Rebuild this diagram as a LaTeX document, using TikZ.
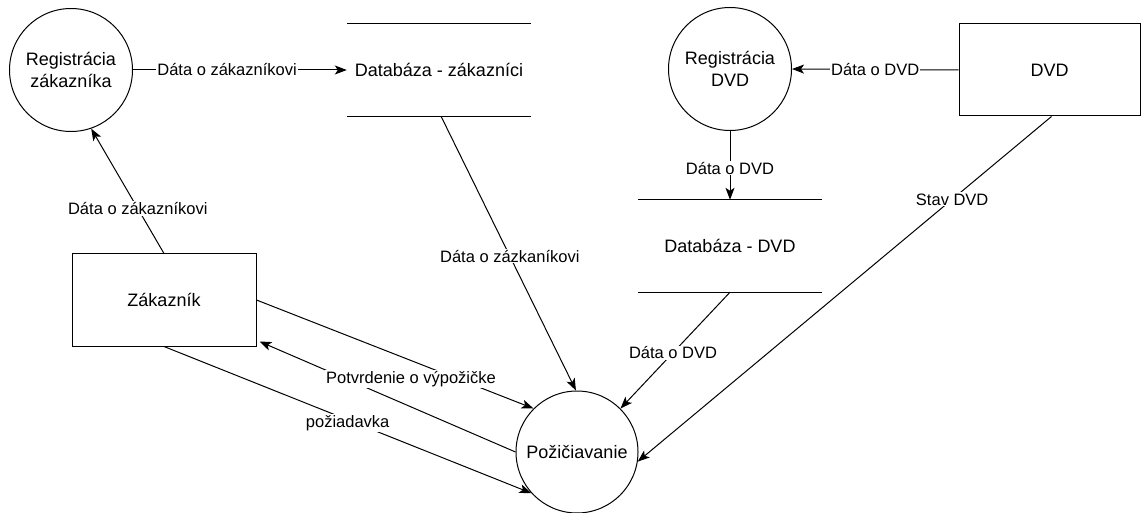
\documentclass[tikz,border=0pt]{standalone}
\usepackage{fontspec}
\setmainfont{Liberation Sans}
\usetikzlibrary{arrows.meta,calc}
\begin{document}
\begin{tikzpicture}[x=1pt,y=-1pt,
  every node/.style={font=\fontsize{18}{22}\selectfont},
  proc/.style={draw, circle, minimum size=123pt, inner sep=0pt, align=center, line width=1pt},
  ent/.style={draw, rectangle, minimum width=184pt, minimum height=92pt, line width=1pt},
  store/.style={rectangle, minimum width=184pt, minimum height=92pt},
  storeline/.style={line width=1pt},
  flow/.style={-{Stealth[length=12pt,width=9pt,inset=3pt]}, line width=1pt},
  lbl/.style={fill=white, inner sep=1pt, font=\fontsize{16.5}{20}\selectfont}
]
\useasboundingbox (0,0) rectangle (1141,513);

% nodes
\node[proc] (regZ) at (71,70) {Registrácia\\zákazníka};
\node[store] (dbZ) at (439,70) {Databáza - zákazníci};
\node[proc] (regD) at (730,69) {Registrácia\\DVD};
\node[store] (dbD) at (730,246) {Databáza - DVD};
\node[ent, minimum width=181pt] (dvd) at (1049.5,70) {DVD};
\node[ent] (zak) at (164,300) {Zákazník};
\node[proc, minimum size=122pt] (pozic) at (577,452) {Požičiavanie};

% data store lines
\draw[storeline] (dbZ.north west) -- (dbZ.north east);
\draw[storeline] (dbZ.south west) -- (dbZ.south east);
\draw[storeline] (dbD.north west) -- (dbD.north east);
\draw[storeline] (dbD.south west) -- (dbD.south east);

% flows
\draw[flow] (regZ.east) -- node[lbl, pos=0.44] (l1) {Dáta o zákazníkovi} (dbZ.west);
\draw[flow] (zak.north) -- node[lbl, pos=0.36] (l2) {Dáta o zákazníkovi} (regZ.-71);
\draw[flow] ($(dbZ.south)+(2,0)$) -- node[lbl, pos=0.51] (l3) {Dáta o zázkaníkovi} (pozic.91);
\draw[flow] (regD.south) -- node[lbl, pos=0.54] (l4) {Dáta o DVD} (dbD.north);
\draw[flow] (dvd.west) -- node[lbl, pos=0.5] (l5) {Dáta o DVD} (regD.east);
\draw[flow] (dbD.south) -- node[lbl, pos=0.52] (l6) {Dáta o DVD} (pozic.45);
\draw[flow] ($(dvd.south)+(2,0)$) -- node[lbl, pos=0.24] (l7) {Stav DVD} (pozic.-9);
\draw[flow] (zak.east) -- (pozic.135);
\draw[flow] (pozic.west) -- ($(zak.south east)+(3,-5)$);
\draw[flow] (zak.south) -- node[lbl, pos=0.5, yshift=-3pt] (l9) {požiadavka} (pozic.222);
\node[lbl] (l8) at (411,379) {Potvrdenie o výpožičke};
\end{tikzpicture}
\end{document}
